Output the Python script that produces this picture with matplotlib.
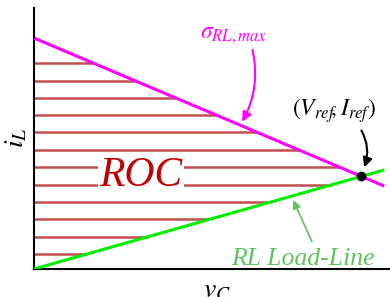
import matplotlib.pyplot as plt
import numpy as np

plt.rcParams['mathtext.fontset'] = 'stix'
plt.rcParams['font.family'] = ['Liberation Serif', 'DejaVu Serif']

# Operating-region lines (arbitrary units, v_C on x, i_L on y)
sigma_x = [0.05, 9.8]        # sigma_RL,max line
sigma_y = [8.82, 3.20]
load_x = [0.0, 9.8]          # RL load-line
load_y = [0.0, 3.78]
# hatch levels inside the region of convergence
hatch_y = [0.57, 1.24, 1.90, 2.57, 3.23, 3.90, 4.56, 5.23, 5.89, 6.56, 7.22, 7.89]

magenta = '#ff00ff'
green = '#00ee00'
hatch_c = '#c0504d'

fig = plt.figure(figsize=(3.9, 2.97), dpi=100)
ax = fig.add_axes([34/390, 28/297, 356/390, 261/297])
ax.set_xlim(0, 10)
ax.set_ylim(0, 10)

# slopes / intercepts of the two boundaries
s_sig = (sigma_y[1] - sigma_y[0]) / (sigma_x[1] - sigma_x[0])
b_sig = sigma_y[0] - s_sig * sigma_x[0]
s_load = (load_y[1] - load_y[0]) / (load_x[1] - load_x[0])

for y in hatch_y:
    x_end = min((y - b_sig) / s_sig, y / s_load)
    ax.plot([0, x_end], [y, y], color=hatch_c, lw=1.8, solid_capstyle='butt', zorder=1)

ax.plot(sigma_x, sigma_y, color=magenta, lw=2.2, zorder=3)
ax.plot(load_x, load_y, color=green, lw=2.2, zorder=3)

# reference point = intersection
x_ref = b_sig / (s_load - s_sig)
y_ref = s_load * x_ref
ax.plot(x_ref, y_ref, 'o', color='black', ms=6, zorder=4)

ax.text(3.0, 3.56, 'ROC', color='#c00000', fontsize=30, style='italic',
        ha='center', va='center', zorder=2,
        bbox=dict(facecolor='white', edgecolor='none', pad=1))

ax.text(5.6, 8.95, r'$\sigma_{RL,max}$', color=magenta, fontsize=17, ha='center', va='center')
ax.annotate('', xy=(5.81, 5.55), xytext=(6.12, 8.5),
            arrowprops=dict(arrowstyle='-|>', color=magenta, lw=1.5,
                            mutation_scale=14, connectionstyle='arc3,rad=-0.2'))

ax.text(8.43, 6.05, r'$(V_{ref}\!,I_{ref})$', color='black', fontsize=17, ha='center', va='center')
ax.annotate('', xy=(x_ref + 0.05, y_ref + 0.25), xytext=(9.16, 5.4),
            arrowprops=dict(arrowstyle='-|>', color='black', lw=1.5,
                            mutation_scale=14, connectionstyle='arc3,rad=-0.25'))

ax.text(7.56, 0.40, 'RL Load-Line', color='#5fc35f', fontsize=18.5, style='italic',
        ha='center', va='center')
ax.annotate('', xy=(7.25, 2.73), xytext=(7.84, 0.95),
            arrowprops=dict(arrowstyle='-|>', color='#5fc35f', lw=1.2, mutation_scale=12))

ax.text(-0.48, 5.02, r'$i_L$', fontsize=20, rotation=90, ha='center', va='center', clip_on=False)
ax.text(5.14, -0.82, r'$v_C$', fontsize=20, ha='center', va='center', clip_on=False)

for side in ['top', 'right']:
    ax.spines[side].set_visible(False)
for side in ['left', 'bottom']:
    ax.spines[side].set_linewidth(1.5)
ax.set_xticks([])
ax.set_yticks([])

fig.savefig('out.png', dpi=100)
